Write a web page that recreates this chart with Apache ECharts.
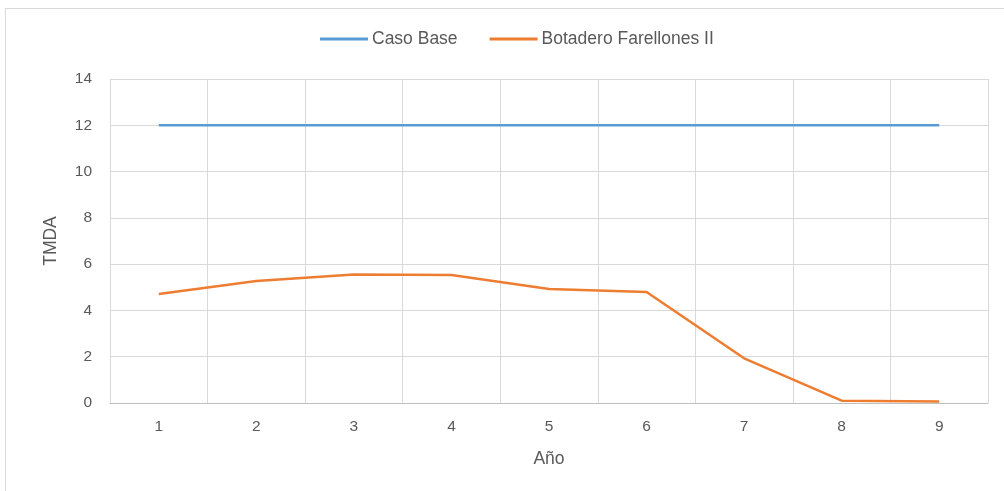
<!DOCTYPE html>
<html><head><meta charset="utf-8">
<script src="https://cdn.jsdelivr.net/npm/echarts@6/dist/echarts.min.js"></script>
<style>html,body{margin:0;padding:0;background:#fff}#c{width:1004px;height:491px}
#frame{position:absolute;left:5px;top:8px;width:1010px;height:500px;border:1px solid #d9d9d9;box-sizing:border-box;pointer-events:none}</style>
</head><body><div id="c"></div><div id="frame"></div>
<script>
var categories = ['1','2','3','4','5','6','7','8','9'];
var casoBase = [12,12,12,12,12,12,12,12,12];
var botadero = [4.71,5.27,5.55,5.53,4.93,4.80,1.93,0.10,0.06];
var yTicks = {min:0, max:14, interval:2};
var FONT = "'Liberation Sans Narrow','Arial Narrow','Liberation Sans',sans-serif";
var chart = echarts.init(document.getElementById('c'));
chart.setOption({
  animation:false,
  textStyle:{fontFamily:FONT},
  legend:{top:25,left:315,itemWidth:48,itemHeight:3,itemGap:32,
    icon:'rect',
    textStyle:{fontFamily:FONT,fontSize:17.5,color:'#595959',padding:[0,0,0,-1]},
    data:['Caso Base','Botadero Farellones II']},
  grid:{left:110,right:16,top:79,bottom:88},
  xAxis:{type:'category',data:categories,boundaryGap:true,
    name:'Año',nameLocation:'middle',nameGap:47,
    nameTextStyle:{fontFamily:FONT,fontSize:17.5,color:'#595959'},
    axisLine:{lineStyle:{color:'#bfbfbf',width:1}},
    axisTick:{show:false},
    axisLabel:{fontFamily:FONT,fontSize:15.5,color:'#595959',margin:16},
    splitLine:{show:true,lineStyle:{color:'#d9d9d9',width:1}}},
  yAxis:{type:'value',min:yTicks.min,max:yTicks.max,interval:yTicks.interval,
    name:'TMDA',nameLocation:'middle',nameGap:50,nameRotate:90,
    nameTextStyle:{fontFamily:FONT,fontSize:17.5,color:'#595959'},
    axisLine:{show:false},axisTick:{show:false},
    axisLabel:{fontFamily:FONT,fontSize:15.5,color:'#595959',margin:18},
    splitLine:{lineStyle:{color:'#d9d9d9',width:1}}},
  series:[
    {name:'Caso Base',type:'line',data:casoBase,symbol:'none',
     lineStyle:{color:'#5b9bd5',width:2.5},itemStyle:{color:'#5b9bd5'}},
    {name:'Botadero Farellones II',type:'line',data:botadero,symbol:'none',
     lineStyle:{color:'#ed7d31',width:2.5},itemStyle:{color:'#ed7d31'}}
  ]
});
</script></body></html>
